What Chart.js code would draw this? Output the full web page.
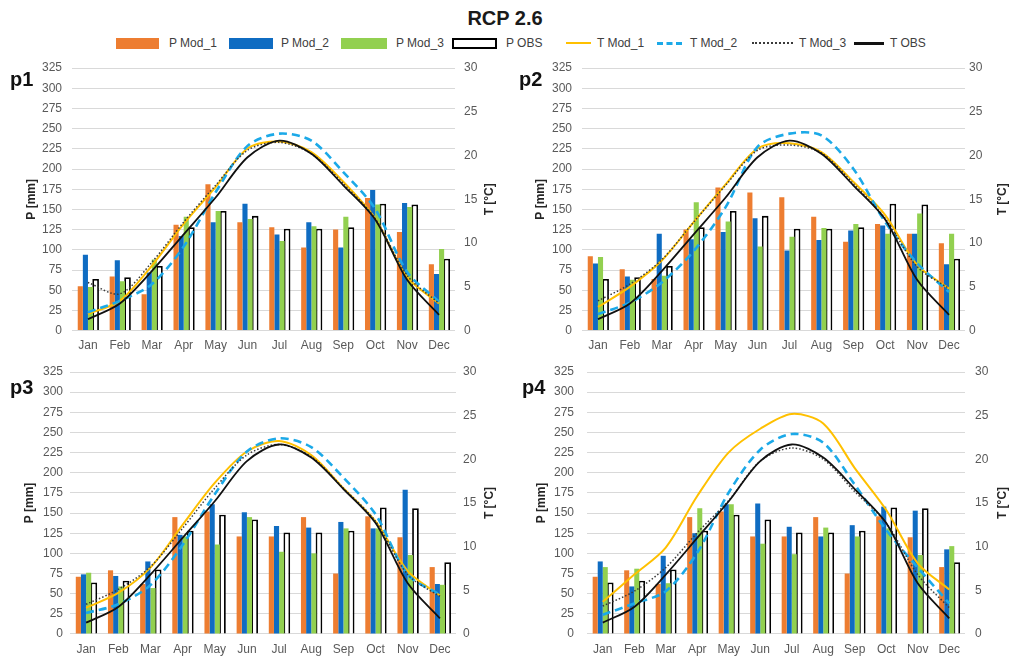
<!DOCTYPE html>
<html>
<head>
<meta charset="utf-8">
<script src="https://cdn.jsdelivr.net/npm/chart.js@4.4.0/dist/chart.umd.min.js"></script>
<style>
  html, body { margin: 0; padding: 0; background: #fff; }
  body { width: 1010px; height: 661px; position: relative; overflow: hidden;
         font-family: "Liberation Sans", Arial, sans-serif; }
  #title { position: absolute; left: 0; width: 1010px; top: 6px; text-align: center;
           font-weight: bold; font-size: 20px; line-height: 24px; color: #1a1a1a; }
  .leg-sym { position: absolute; box-sizing: border-box; }
  .leg-txt { position: absolute; font-size: 12px; line-height: 14px; color: #404040; white-space: nowrap; }
  .panel { position: absolute; }
  .plabel { position: absolute; font-weight: bold; font-size: 20px; line-height: 20px; color: #111; }
</style>
</head>
<body>
<div id="title">RCP 2.6</div>
<div id="legend"></div>
<div id="panels"></div>
<script>
// ---- data ----
const months = ['Jan', 'Feb', 'Mar', 'Apr', 'May', 'Jun', 'Jul', 'Aug', 'Sep', 'Oct', 'Nov', 'Dec'];
const precipTicks = [0, 25, 50, 75, 100, 125, 150, 175, 200, 225, 250, 275, 300, 325];
const tempTicks = [0, 5, 10, 15, 20, 25, 30];

// observed monthly precipitation [mm] and temperature [°C]
const pObs = [64, 66, 80, 128, 148, 142, 126, 126, 128, 157, 156, 89];
const tObs = [1.3, 3.1, 6.8, 11.0, 15.2, 19.8, 21.7, 20.2, 16.6, 12.7, 5.8, 1.8];

// p1
const p1PMod1 = [55, 67, 45, 131, 181, 134, 128, 103, 125, 164, 122, 82];
const p1PMod2 = [94, 87, 72, 117, 134, 157, 119, 134, 103, 174, 158, 70];
const p1PMod3 = [54, 61, 88, 141, 148, 138, 111, 129, 141, 156, 153, 101];
const p1TMod1 = [1.9, 3.4, 7.4, 12.2, 16.4, 20.8, 21.6, 20.4, 17.0, 12.8, 6.1, 3.1];
const p1TMod2 = [2.1, 3.4, 5.3, 9.6, 15.8, 21.1, 22.5, 21.7, 18.1, 13.9, 6.7, 3.3];
const p1TMod3 = [5.5, 4.2, 7.8, 12.4, 16.6, 20.6, 21.5, 20.2, 16.8, 12.8, 6.3, 3.1];

// p2
const p2PMod1 = [92, 76, 64, 125, 177, 171, 165, 141, 110, 132, 120, 108];
const p2PMod2 = [83, 67, 120, 113, 122, 139, 99, 112, 124, 130, 120, 82];
const p2PMod3 = [91, 63, 68, 159, 135, 104, 116, 127, 132, 120, 145, 120];
const p2TMod1 = [2.7, 5.0, 8.0, 12.4, 16.7, 20.8, 21.4, 20.4, 17.0, 13.2, 7.5, 4.8];
const p2TMod2 = [1.9, 3.2, 5.5, 9.1, 14.1, 21.0, 22.5, 22.3, 18.5, 12.4, 7.7, 4.4];
const p2TMod3 = [3.4, 5.3, 8.1, 12.4, 16.6, 20.6, 21.2, 20.3, 16.8, 12.8, 7.3, 4.8];

// p3
const p3PMod1 = [71, 79, 62, 145, 152, 121, 121, 145, 75, 146, 120, 83];
const p3PMod2 = [74, 72, 90, 123, 161, 151, 134, 132, 139, 131, 179, 62];
const p3PMod3 = [76, 59, 57, 121, 111, 145, 102, 100, 131, 131, 98, 61];
const p3TMod1 = [3.0, 4.7, 7.6, 12.5, 17.3, 20.9, 22.1, 20.5, 16.7, 12.9, 7.2, 4.4];
const p3TMod2 = [2.4, 3.4, 5.6, 10.2, 16.0, 20.9, 22.4, 21.4, 17.9, 13.7, 6.8, 4.5];
const p3TMod3 = [3.4, 5.1, 7.7, 12.1, 16.7, 20.5, 21.7, 20.3, 16.7, 12.9, 6.8, 4.3];

// p4
const p4PMod1 = [71, 79, 62, 145, 152, 121, 121, 145, 75, 146, 120, 83];
const p4PMod2 = [90, 59, 97, 125, 161, 162, 133, 121, 135, 158, 153, 105];
const p4PMod3 = [83, 81, 63, 156, 161, 112, 99, 132, 121, 131, 98, 109];
const p4TMod1 = [3.7, 6.8, 9.9, 15.8, 20.8, 23.5, 25.2, 24.1, 19.0, 14.2, 8.1, 5.1];
const p4TMod2 = [2.2, 3.5, 4.9, 9.3, 16.2, 21.1, 22.9, 21.9, 17.1, 11.9, 7.6, 3.5];
const p4TMod3 = [3.2, 4.9, 7.6, 11.6, 15.3, 19.8, 21.3, 20.0, 16.3, 12.7, 6.8, 3.0];

const seriesNames = ['P Mod_1', 'P Mod_2', 'P Mod_3', 'P OBS', 'T Mod_1', 'T Mod_2', 'T Mod_3', 'T OBS'];
const panelNames = ['p1', 'p2', 'p3', 'p4'];
const leftTitle = 'P [mm]';
const rightTitleText = 'T [°C]';

// ---- styles ----
const FONT = '"Liberation Sans", Arial, sans-serif';
const TICK_COLOR = '#595959';
const GRID_COLOR = '#d9d9d9';
const C_ORANGE = '#ED7D31', C_BLUE = '#0F6CC2', C_GREEN = '#92D050';
const C_YELLOW = '#FFC000', C_CYAN = '#1BA9E8', C_DOT = '#3a3a3a', C_BLACK = '#111111';

Chart.defaults.font.family = FONT;
Chart.defaults.font.size = 12;

// ---- legend ----
const legendSpec = [
  { kind: 'box',  color: C_ORANGE, x0: 116, x1: 159, tx: 169 },
  { kind: 'box',  color: C_BLUE,   x0: 229, x1: 273, tx: 281 },
  { kind: 'box',  color: C_GREEN,  x0: 341, x1: 387, tx: 396 },
  { kind: 'obs',  color: '#000',   x0: 452, x1: 497, tx: 506 },
  { kind: 'solid',  color: C_YELLOW, x0: 566, x1: 591, tx: 597, w: 2 },
  { kind: 'dashed', color: C_CYAN,   x0: 657, x1: 682, tx: 690, w: 3 },
  { kind: 'dotted', color: C_DOT,    x0: 752, x1: 793, tx: 799, w: 2 },
  { kind: 'solid',  color: C_BLACK,  x0: 854, x1: 884, tx: 890, w: 3 }
];
const LEG_Y = 43;
const legend = document.getElementById('legend');
legendSpec.forEach((s, i) => {
  const sym = document.createElement('div');
  sym.className = 'leg-sym';
  sym.style.left = s.x0 + 'px';
  sym.style.width = (s.x1 - s.x0) + 'px';
  if (s.kind === 'box' || s.kind === 'obs') {
    sym.style.top = (LEG_Y - 5) + 'px';
    sym.style.height = '11px';
    if (s.kind === 'box') sym.style.background = s.color;
    else { sym.style.background = '#fff'; sym.style.border = '2px solid #000'; }
  } else {
    sym.style.top = (LEG_Y - Math.floor(s.w / 2)) + 'px';
    sym.style.height = '0px';
    sym.style.borderTop = s.w + 'px ' + s.kind + ' ' + s.color;
  }
  legend.appendChild(sym);
  const t = document.createElement('div');
  t.className = 'leg-txt';
  t.style.left = s.tx + 'px';
  t.style.top = (LEG_Y - 7) + 'px';
  t.textContent = seriesNames[i];
  legend.appendChild(t);
});

// ---- axis titles drawn at fixed offsets ----
const axisTitles = {
  id: 'axisTitles',
  afterDraw(chart, args, o) {
    const { ctx, chartArea } = chart;
    const cy = (chartArea.top + chartArea.bottom) / 2;
    ctx.save();
    ctx.font = 'bold 12px ' + FONT;
    ctx.fillStyle = '#262626';
    ctx.textAlign = 'center';
    ctx.textBaseline = 'middle';
    [[o.lx, leftTitle], [o.rx, rightTitleText]].forEach(([x, txt]) => {
      ctx.save();
      ctx.translate(x, cy);
      ctx.rotate(-Math.PI / 2);
      ctx.fillText(txt, 0, 0);
      ctx.restore();
    });
    ctx.restore();
  }
};

// ---- panel geometry: plot rectangle (page px) and canvas slot ----
const PAD_TOP = 24;   // top padding inside each canvas, above the plot
const X_AXIS_H = 26;  // room for month labels under the plot
const panels = [
  { name: panelNames[0], cl: 0,   cw: 505, px0: 72,  px1: 455, py0: 67.7,  py1: 330.3, lp: 10, rp: 9,  lx: 32, rx: 490, lab: [10, 69],
    P: [p1PMod1, p1PMod2, p1PMod3], T: [p1TMod1, p1TMod2, p1TMod3] },
  { name: panelNames[1], cl: 505, cw: 505, px0: 582, px1: 965, py0: 67.7,  py1: 330.3, lp: 10, rp: 4,  lx: 36, rx: 498, lab: [519, 69],
    P: [p2PMod1, p2PMod2, p2PMod3], T: [p2TMod1, p2TMod2, p2TMod3] },
  { name: panelNames[2], cl: 0,   cw: 505, px0: 70,  px1: 456, py0: 372.3, py1: 634.3, lp: 7,  rp: 7,  lx: 30, rx: 490, lab: [10, 377],
    P: [p3PMod1, p3PMod2, p3PMod3], T: [p3TMod1, p3TMod2, p3TMod3] },
  { name: panelNames[3], cl: 505, cw: 505, px0: 587, px1: 965, py0: 372.3, py1: 634.3, lp: 13, rp: 10, lx: 37, rx: 498, lab: [522, 377],
    P: [p4PMod1, p4PMod2, p4PMod3], T: [p4TMod1, p4TMod2, p4TMod3] }
];

const host = document.getElementById('panels');
panels.forEach(g => {
  const top = g.py0 - PAD_TOP;
  const h = Math.round(g.py1 - top + X_AXIS_H);
  const xh = h - (g.py1 - top);
  const lw = g.px0 - g.cl;
  const rw = g.cl + g.cw - g.px1;

  const wrap = document.createElement('div');
  wrap.className = 'panel';
  wrap.style.left = g.cl + 'px';
  wrap.style.top = top + 'px';
  wrap.style.width = g.cw + 'px';
  wrap.style.height = h + 'px';
  const cv = document.createElement('canvas');
  cv.width = g.cw; cv.height = h;
  cv.style.width = g.cw + 'px'; cv.style.height = h + 'px';
  wrap.appendChild(cv);
  host.appendChild(wrap);

  const lab = document.createElement('div');
  lab.className = 'plabel';
  lab.style.left = g.lab[0] + 'px';
  lab.style.top = g.lab[1] + 'px';
  lab.textContent = g.name;
  host.appendChild(lab);

  const barBase = { type: 'bar', yAxisID: 'y', order: 10, categoryPercentage: 0.64, barPercentage: 1.0, borderWidth: 0 };
  const lineBase = { type: 'line', yAxisID: 'y2', pointRadius: 0, tension: 0.3, fill: false };

  new Chart(cv, {
    data: {
      labels: months,
      datasets: [
        { ...barBase, label: seriesNames[0], data: g.P[0], backgroundColor: C_ORANGE },
        { ...barBase, label: seriesNames[1], data: g.P[1], backgroundColor: C_BLUE },
        { ...barBase, label: seriesNames[2], data: g.P[2], backgroundColor: C_GREEN },
        { ...barBase, label: seriesNames[3], data: pObs, backgroundColor: '#ffffff', borderColor: '#000000', borderWidth: 1.8, barPercentage: 1.3 },
        { ...lineBase, label: seriesNames[4], data: g.T[0], borderColor: C_YELLOW, borderWidth: 2, order: 4 },
        { ...lineBase, label: seriesNames[5], data: g.T[1], borderColor: C_CYAN, borderWidth: 2.6, borderDash: [8, 5], order: 3 },
        { ...lineBase, label: seriesNames[6], data: g.T[2], borderColor: C_DOT, borderWidth: 1.5, borderDash: [1.5, 2], order: 2 },
        { ...lineBase, label: seriesNames[7], data: tObs, borderColor: C_BLACK, borderWidth: 1.8, order: 1 }
      ]
    },
    options: {
      responsive: false,
      devicePixelRatio: 1,
      animation: false,
      events: [],
      layout: { padding: { top: PAD_TOP, left: 0, right: 0, bottom: 0 } },
      plugins: { legend: { display: false }, tooltip: { enabled: false }, axisTitles: { lx: g.lx, rx: g.rx } },
      scales: {
        x: {
          offset: true,
          grid: { display: false, drawTicks: false },
          border: { display: false },
          ticks: { color: TICK_COLOR, font: { size: 12 }, padding: 8, maxRotation: 0, autoSkip: false },
          afterFit(s) { s.height = xh; }
        },
        y: {
          position: 'left',
          min: precipTicks[0], max: precipTicks[precipTicks.length - 1],
          afterBuildTicks(s) { s.ticks = precipTicks.map(v => ({ value: v })); },
          grid: { color: GRID_COLOR, lineWidth: 1, drawTicks: false },
          border: { display: false },
          ticks: { color: TICK_COLOR, font: { size: 12 }, padding: g.lp },
          afterFit(s) { s.width = lw; }
        },
        y2: {
          position: 'right',
          min: tempTicks[0], max: tempTicks[tempTicks.length - 1],
          afterBuildTicks(s) { s.ticks = tempTicks.map(v => ({ value: v })); },
          grid: { display: false, drawTicks: false },
          border: { display: false },
          ticks: { color: TICK_COLOR, font: { size: 12 }, padding: g.rp },
          afterFit(s) { s.width = rw; }
        }
      }
    },
    plugins: [axisTitles]
  });
});
</script>
</body>
</html>
